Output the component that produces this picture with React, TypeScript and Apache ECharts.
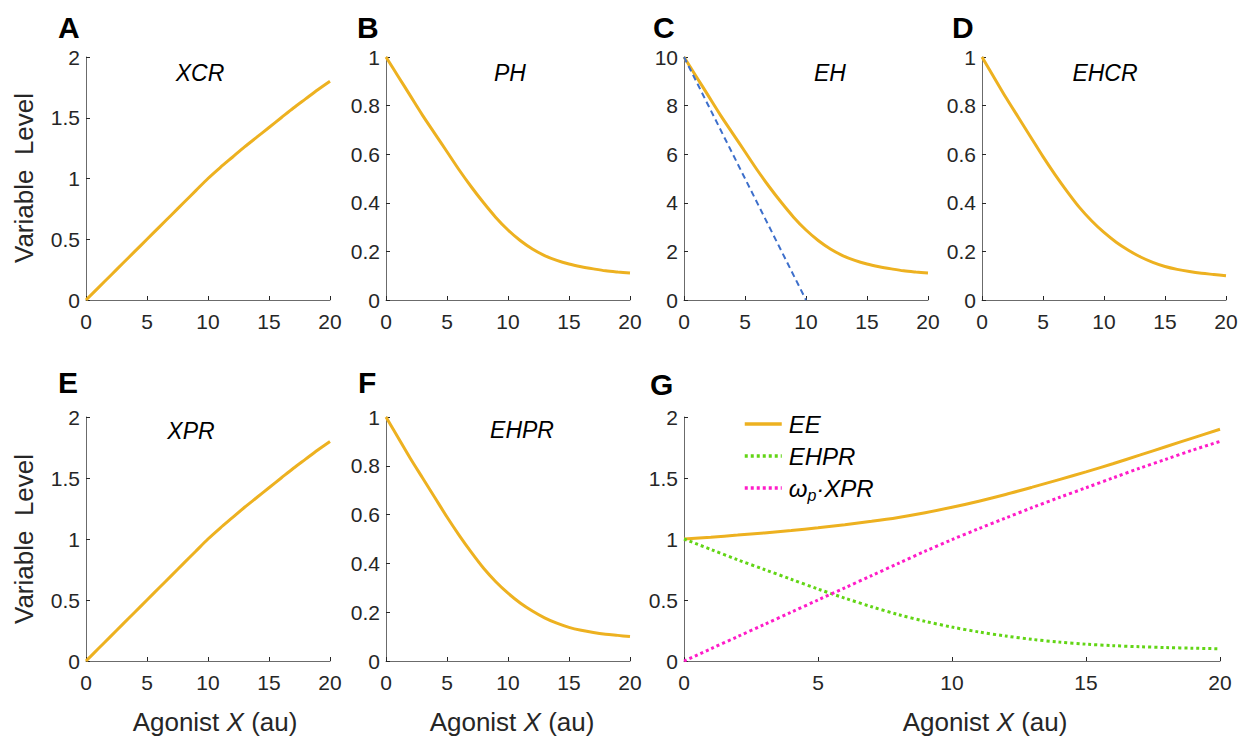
import React, { useEffect, useRef } from "react";
import * as echarts from "echarts";

// Agonist concentration grid (au) shared by every curve
const agonist = [0, 1, 2, 3, 4, 5, 6, 7, 8, 9, 10, 11, 12, 13, 14, 15, 16, 17, 18, 19, 20];

// Panel A: XCR
const xcr = [0, 0.1, 0.2, 0.3, 0.4, 0.5, 0.6, 0.7, 0.8, 0.9, 1.0, 1.09, 1.175, 1.26, 1.34, 1.42, 1.5, 1.58, 1.655, 1.73, 1.8];
// Panel B: PH
const ph = [1.0, 0.92, 0.84, 0.76, 0.685, 0.61, 0.535, 0.465, 0.4, 0.34, 0.288, 0.245, 0.21, 0.183, 0.163, 0.148, 0.137, 0.128, 0.12, 0.115, 0.111];
// Panel C: EH and its initial linear decline
const eh = [10, 9.2, 8.4, 7.6, 6.85, 6.1, 5.35, 4.65, 4.0, 3.4, 2.88, 2.45, 2.1, 1.83, 1.63, 1.48, 1.37, 1.28, 1.2, 1.15, 1.11];
const ehLinearX = [0, 10];
const ehLinearY = [10, 0];
// Panel D: EHCR
const ehcr = [1, 0.915, 0.83, 0.75, 0.67, 0.59, 0.515, 0.445, 0.38, 0.325, 0.278, 0.238, 0.205, 0.177, 0.155, 0.138, 0.126, 0.117, 0.11, 0.105, 0.1];
// Panel E: XPR
const xpr = [0, 0.1, 0.2, 0.3, 0.4, 0.5, 0.6, 0.7, 0.8, 0.9, 1.0, 1.09, 1.175, 1.26, 1.34, 1.42, 1.5, 1.58, 1.655, 1.73, 1.8];
// Panel F: EHPR
const ehpr = [1, 0.915, 0.83, 0.75, 0.67, 0.59, 0.515, 0.445, 0.38, 0.325, 0.278, 0.238, 0.205, 0.177, 0.155, 0.138, 0.126, 0.117, 0.11, 0.105, 0.1];
// Panel G: EE and its two components
const ee = [1.0, 1.015, 1.032, 1.05, 1.07, 1.092, 1.117, 1.145, 1.177, 1.215, 1.26, 1.31, 1.365, 1.425, 1.487, 1.55, 1.617, 1.687, 1.758, 1.829, 1.9];
const ehprG = [1, 0.915, 0.83, 0.75, 0.67, 0.59, 0.515, 0.445, 0.38, 0.325, 0.278, 0.238, 0.205, 0.177, 0.155, 0.138, 0.126, 0.117, 0.11, 0.105, 0.1];
const wpXpr = [0, 0.1, 0.2, 0.3, 0.4, 0.5, 0.6, 0.7, 0.8, 0.9, 0.995, 1.085, 1.172, 1.258, 1.34, 1.42, 1.5, 1.58, 1.655, 1.73, 1.8];

const xTicks = { min: 0, max: 20, interval: 5 };

const FONT = 'Arial, "Liberation Sans", Helvetica, sans-serif';
const ORANGE = "#EDB120";
const BLUE = "#3D6FCB";
const GREEN = "#62D515";
const MAGENTA = "#FF1CC8";
const AXIS = "#6b6b6b";
const INK = "#262626";

const pairs = (xs: number[], ys: number[]) => xs.map((x, i) => [x, ys[i]]);

const xAxis = (gridIndex: number) => ({
  type: "value",
  gridIndex,
  min: xTicks.min,
  max: xTicks.max,
  interval: xTicks.interval,
  axisLine: { show: true, lineStyle: { color: AXIS, width: 1 } },
  axisTick: { show: true, inside: true, length: 4, lineStyle: { color: INK } },
  axisLabel: { fontSize: 21, color: INK, margin: 11, fontFamily: FONT },
  splitLine: { show: false },
});

const yAxis = (gridIndex: number, max: number, interval: number) => ({
  type: "value",
  gridIndex,
  min: 0,
  max,
  interval,
  axisLine: { show: true, lineStyle: { color: AXIS, width: 1 } },
  axisTick: { show: true, inside: true, length: 4, lineStyle: { color: INK } },
  axisLabel: { fontSize: 21, color: INK, margin: 6, fontFamily: FONT },
  splitLine: { show: false },
});

const curve = (
  name: string,
  idx: number,
  xs: number[],
  ys: number[],
  color: string,
  width: number,
  type: any = "solid",
  smooth: any = 0.3
) => ({
  name,
  type: "line",
  xAxisIndex: idx,
  yAxisIndex: idx,
  data: pairs(xs, ys),
  smooth,
  symbol: "none",
  lineStyle: { color, width, type },
  itemStyle: { color },
  z: 3,
});

const letter = (t: string, x: number, y: number) => ({
  type: "text",
  x,
  y,
  style: {
    text: t,
    fontFamily: FONT,
    fontWeight: "bold",
    fontSize: 30,
    fill: "#000",
    align: "left",
    verticalAlign: "middle",
  },
});

const panelTitle = (t: string, x: number, y: number) => ({
  type: "text",
  x,
  y,
  style: {
    text: t,
    fontFamily: FONT,
    fontStyle: "italic",
    fontSize: 23,
    fill: "#000",
    align: "center",
    verticalAlign: "middle",
  },
});

const yName = (y: number) => ({
  type: "text",
  x: 24,
  y,
  rotation: Math.PI / 2,
  style: {
    text: "Variable  Level",
    fontFamily: FONT,
    fontSize: 26,
    fill: INK,
    align: "center",
    verticalAlign: "middle",
  },
});

const xName = (x: number) => ({
  type: "text",
  x,
  y: 722,
  style: {
    text: "{n|Agonist }{i|X}{n| (au)}",
    fontFamily: FONT,
    fontSize: 26,
    fill: INK,
    align: "center",
    verticalAlign: "middle",
    rich: {
      n: { fontFamily: FONT, fontSize: 26, fill: INK },
      i: { fontFamily: FONT, fontSize: 26, fontStyle: "italic", fill: INK },
    },
  },
});

const legendLabels: Record<string, string> = {
  gEE: "{w|EE}",
  gEHPR: "{w|EHPR}",
  gWX: "{w|ω}{p|p}{w|·XPR}",
};

const option = {
  animation: false,
  backgroundColor: "#ffffff",
  grid: [
    { left: 86, top: 57, width: 244, height: 243 },
    { left: 386, top: 57, width: 244, height: 243 },
    { left: 684, top: 57, width: 244, height: 243 },
    { left: 982, top: 57, width: 244, height: 243 },
    { left: 86, top: 417, width: 244, height: 244 },
    { left: 386, top: 417, width: 244, height: 244 },
    { left: 684, top: 417, width: 536, height: 244 },
  ],
  xAxis: [0, 1, 2, 3, 4, 5, 6].map(xAxis),
  yAxis: [
    yAxis(0, 2, 0.5),
    yAxis(1, 1, 0.2),
    yAxis(2, 10, 2),
    yAxis(3, 1, 0.2),
    yAxis(4, 2, 0.5),
    yAxis(5, 1, 0.2),
    yAxis(6, 2, 0.5),
  ],
  legend: {
    data: ["gEE", "gEHPR", "gWX"],
    orient: "vertical",
    left: 738,
    top: 407,
    itemWidth: 37,
    itemHeight: 14,
    itemGap: 8,
    selectedMode: false,
    itemStyle: { opacity: 0 },
    lineStyle: { width: 3.5 },
    formatter: (name: string) => legendLabels[name],
    textStyle: {
      fontFamily: FONT,
      fontSize: 24,
      fontStyle: "italic",
      color: "#000",
      padding: [0, 0, 0, 2],
      rich: {
        w: {
          fontFamily: FONT,
          fontSize: 24,
          fontStyle: "italic",
          color: "#000",
          lineHeight: 30,
          verticalAlign: "middle",
        },
        p: {
          fontFamily: FONT,
          fontSize: 16,
          fontStyle: "italic",
          color: "#000",
          lineHeight: 16,
          verticalAlign: "bottom",
        },
      },
    },
  },
  series: [
    curve("XCR", 0, agonist, xcr, ORANGE, 3),
    curve("PH", 1, agonist, ph, ORANGE, 3),
    curve("EH", 2, agonist, eh, ORANGE, 3),
    curve("EHlin", 2, ehLinearX, ehLinearY, BLUE, 2, [6, 4], false),
    curve("EHCR", 3, agonist, ehcr, ORANGE, 3),
    curve("XPR", 4, agonist, xpr, ORANGE, 3),
    curve("EHPR", 5, agonist, ehpr, ORANGE, 3),
    curve("gEE", 6, agonist, ee, ORANGE, 3),
    curve("gEHPR", 6, agonist, ehprG, GREEN, 3, [3, 3]),
    curve("gWX", 6, agonist, wpXpr, MAGENTA, 3, [3, 3]),
  ],
  graphic: [
    letter("A", 58, 27),
    letter("B", 357, 27),
    letter("C", 653, 27),
    letter("D", 952, 27),
    letter("E", 58, 382),
    letter("F", 358, 382),
    letter("G", 650, 384),
    panelTitle("XCR", 200, 73),
    panelTitle("PH", 510, 73),
    panelTitle("EH", 830, 73),
    panelTitle("EHCR", 1105, 73),
    panelTitle("XPR", 191, 431),
    panelTitle("EHPR", 522, 430),
    yName(178),
    yName(539),
    xName(215),
    xName(512),
    xName(985),
  ],
};

export default function App() {
  const ref = useRef<HTMLDivElement>(null);
  useEffect(() => {
    document.body.style.margin = "0";
    const chart = echarts.init(ref.current as HTMLDivElement, null, { renderer: "svg" });
    chart.setOption(option as any);
    return () => chart.dispose();
  }, []);
  return <div ref={ref} style={{ width: 1252, height: 744 }} />;
}
